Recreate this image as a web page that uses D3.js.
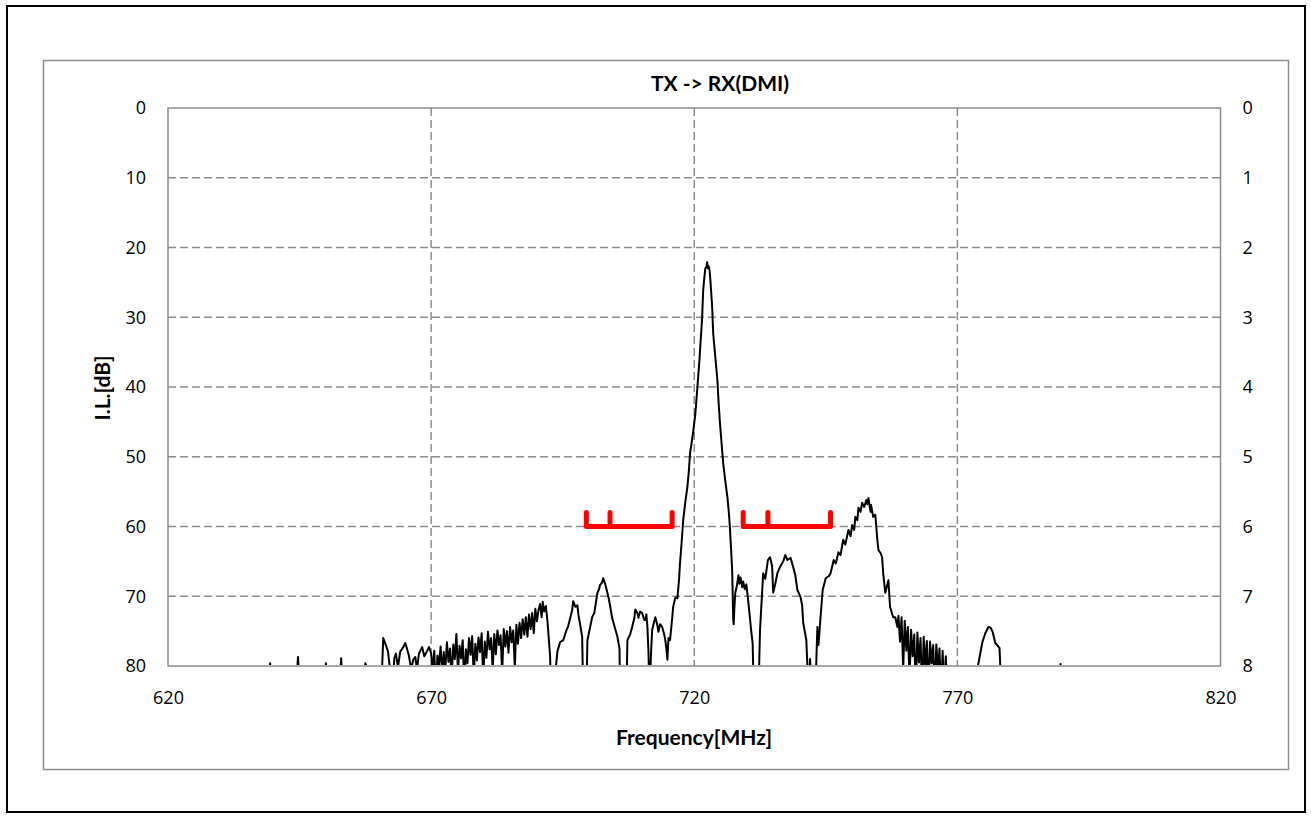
<!DOCTYPE html>
<html><head><meta charset="utf-8">
<script src="https://cdn.jsdelivr.net/npm/d3@7"></script>
<style>
html,body{margin:0;padding:0;background:#fff;}
svg{display:block;font-family:Lato,"Liberation Sans",sans-serif;}
</style></head>
<body>
<svg id="c" width="1311" height="819"></svg>
<script>
const titleText = "TX -> RX(DMI)";
const xLabel = "Frequency[MHz]";
const yLabel = "I.L.[dB]";
const xTicks = [620, 670, 720, 770, 820];
const yTicks = [0, 10, 20, 30, 40, 50, 60, 70, 80];
const y2Ticks = [0, 1, 2, 3, 4, 5, 6, 7, 8];

// measured trace: [frequency MHz, insertion loss dB]; values > 80 fall below the axis
const trace = [
[620,84],[639.0,84],[639.4,79.6],[639.8,84],[644.3,84],[644.7,78.7],[645.1,84],
[649.7,84],[650.0,79.6],[650.4,84],[652.5,84],[652.9,78.9],[653.3,84],
[656.9,84],[657.5,79.6],[658.0,80.5],[660.5,84],[660.9,76.0],[661.4,77.0],[661.8,77.9],
[662.2,80.5],[662.6,84],[663.0,78.9],[663.3,78.2],[663.7,80.2],[664.1,78.0],[664.7,77.3],
[665.1,76.7],[665.4,77.5],[665.8,78.6],[666.2,80.5],[666.6,79.1],[667.0,78.7],[667.3,80.5],
[667.7,78.2],[668.3,77.3],[668.7,78.6],[669.2,77.9],[669.6,77.3],[670.0,78.2],
[670.3,80.6],[670.6,77.8],[670.9,84],[671.2,78.5],[671.5,79.9],[671.8,77.2],[672.1,81],
[672.4,78.0],[672.7,80.5],[673.0,76.6],[673.3,79.4],[673.6,77.5],[673.9,82],[674.2,76.9],
[674.5,79.0],[674.8,75.4],[675.1,80.8],[675.4,77.1],[675.7,78.9],[676.0,76.3],[676.3,83],
[676.6,77.6],[676.9,79.6],[677.2,76.0],[677.5,78.4],[677.8,75.7],[678.1,81.5],[678.4,76.8],
[678.7,79.2],[679.0,75.9],[679.3,78.0],[679.6,75.3],[679.9,82],[680.2,76.5],[680.5,78.8],
[680.8,75.1],[681.1,77.6],[681.4,76.0],[681.7,80.8],[682.0,75.4],[682.3,78.3],[682.6,74.9],
[682.9,77.0],[683.2,75.6],[683.5,81],[683.8,74.7],[684.1,77.2],[684.4,75.0],[684.7,78.1],
[685.0,74.4],[685.3,76.6],[685.6,74.9],[685.9,80.2],[686.2,74.1],[686.5,76.8],[686.8,73.8],
[687.1,76.0],[687.4,73.3],[687.7,75.5],[688.0,73.0],[688.3,75.8],[688.6,72.6],[688.9,74.7],
[689.2,72.4],[689.5,75.3],[689.8,71.8],[690.1,73.6],[690.4,72.0],[690.7,71.1],[691.0,73.0],
[691.2,70.8],[691.5,72.2],[691.8,71.4],[692.1,73.5],[692.4,76.5],[692.6,78.5],[692.8,84],
[693.2,84],[694.0,77.9],[694.5,76.6],[695.1,76.3],[695.7,74.9],[696.0,74.4],[696.4,73.2],
[696.8,72.0],[697.0,70.7],[697.4,71.5],[697.8,71.3],[698.0,72.7],[698.3,74.0],[698.7,75.8],
[698.9,84],[699.5,84],[699.7,76.3],[700.0,75.2],[700.6,73.0],[701.0,72.4],[701.6,69.5],
[701.9,69.0],[702.1,68.4],[702.5,68.0],[702.7,67.4],[703.1,68.3],[703.5,69.5],[703.8,70.5],
[704.4,73.1],[704.8,74.2],[705.4,75.8],[705.8,77.5],[705.9,84],[707.1,84],[707.3,76.3],
[707.8,75.5],[708.2,74.4],[708.6,73.2],[708.8,71.9],[709.2,72.4],[709.4,73.1],[709.7,72.2],
[710.1,72.4],[710.5,73.4],[710.7,73.4],[710.9,72.6],[711.1,74.4],[711.3,78],[711.5,84],
[711.8,78],[712.0,74.8],[712.4,73.6],[712.6,73.0],[713.0,74.2],[713.2,75.1],[713.5,74.0],
[713.9,74.4],[714.3,75.5],[714.5,76.3],[714.7,77.5],[714.9,79.1],[715.1,76.0],[715.4,76.3],
[715.8,73.2],[716.0,71.5],[716.4,70.2],[716.8,70.3],[717.1,67.7],[717.3,65.2],[717.6,62.3],
[717.9,59.1],[718.3,56.5],[718.7,54.3],[719.0,51.8],[719.2,49.5],[719.5,48.0],[719.8,46.4],
[720.2,43.9],[720.5,41.0],[720.8,38.0],[721.0,36.0],[721.1,34.7],[721.3,32.4],[721.5,30.0],
[721.7,26.1],[721.9,24.5],[722.1,23.0],[722.3,22.8],[722.45,22.1],[722.6,23.0],[722.7,22.6],
[722.9,23.2],[723.0,24.0],[723.2,26.2],[723.4,28.5],[723.6,32.3],[724.0,35.7],[724.4,39.0],
[724.6,41.9],[724.9,45.3],[725.1,47.2],[725.5,50.9],[725.9,53.5],[726.3,55.8],[726.6,58.2],
[726.8,60.5],[727.0,63.3],[727.2,66.2],[727.3,69.5],[727.4,73.4],[727.5,74.0],[727.6,72.0],
[727.8,69.5],[728.1,68.5],[728.4,67.0],[728.6,68.2],[728.8,67.3],[729.1,68.7],[729.3,67.9],
[729.6,69.0],[729.9,68.3],[730.2,70.3],[730.5,72.5],[730.8,74.8],[731.1,76.8],[731.3,84],
[732.2,84],[732.5,74.8],[733.1,66.7],[733.5,67.5],[734.0,64.8],[734.4,64.4],[734.8,65.7],
[735.0,69.5],[735.4,68.2],[735.8,66.7],[736.3,65.8],[736.9,65.0],[737.3,64.1],[737.7,64.8],
[738.3,64.5],[738.8,65.8],[739.2,67.0],[739.6,69.1],[740.2,70.1],[740.5,71.3],[740.7,73.8],
[741.3,76.3],[741.7,84],[742.0,79.0],[742.4,84],[743.0,84],[743.4,74.4],[743.6,77],
[744.0,73.0],[744.4,69.1],[745.0,67.4],[745.6,67.1],[745.9,66.7],[746.5,64.8],[746.9,65.3],
[747.4,63.7],[747.8,64.1],[748.3,61.9],[748.7,62.6],[749.3,60.5],[749.7,61.4],[750.0,59.8],
[750.4,60.5],[750.6,58.6],[751.0,59.1],[751.2,57.3],[751.6,57.9],[751.9,56.6],[752.3,57.2],
[752.7,56.2],[752.9,56.8],[753.1,55.9],[753.5,57.9],[753.6,56.9],[754.0,58.6],[754.4,58.3],
[754.6,60.1],[754.8,62.0],[755.0,63.4],[755.4,63.8],[755.7,64.4],[755.9,66.7],[756.3,69.5],
[756.9,67.7],[757.2,71.5],[757.8,73.0],[758.2,73.0],[758.6,74.4],
[758.8,72.8],[759.1,76.5],[759.4,73.0],[759.7,80.5],[760.0,73.5],[760.3,77.8],[760.6,74.4],
[760.9,82],[761.2,74.8],[761.5,78.6],[761.8,75.5],[762.1,84],[762.4,75.2],[762.7,79.5],
[763.0,76.0],[763.3,84],[763.6,75.8],[763.9,80.2],[764.2,76.4],[764.5,84],[764.8,76.5],
[765.1,79.6],[765.4,77.0],[765.7,84],[766.0,76.9],[766.3,80.5],[766.6,77.5],[766.9,84],
[767.2,77.8],[767.5,84],[767.8,78.6],[768.1,84],[768.4,84],
[773.6,84],[773.9,80],[774.75,76.6],[775.3,75.3],[775.9,74.4],[776.3,74.5],[776.7,75.1],
[777.2,76.7],[778.0,77.4],[778.4,84],[789.3,84],[789.6,79.7],[789.9,84],[820,84]
];

// red band markers (bracket shapes)
const bandLeft  = [[699.5,58],[699.5,60],[704,60],[704,58],[704,60],[715.8,60],[715.8,58]];
const bandRight = [[729.3,58],[729.3,60],[734,60],[734,58],[734,60],[745.9,60],[745.9,58]];

const svg = d3.select("#c");
const L = 168, R = 1220.5, T = 108, B = 666;
const x = d3.scaleLinear().domain([620, 820]).range([L, R]);
const y = d3.scaleLinear().domain([0, 80]).range([T, B]);
const y2 = d3.scaleLinear().domain([0, 8]).range([T, B]);

// frames
svg.append("rect").attr("x", 7).attr("y", 6).attr("width", 1298).attr("height", 806)
  .attr("fill", "#fff").attr("stroke", "#000").attr("stroke-width", 2);
svg.append("rect").attr("x", 43.5).attr("y", 60.5).attr("width", 1245).attr("height", 709)
  .attr("fill", "#fff").attr("stroke", "#8c8c8c").attr("stroke-width", 1.5);

// grid
const grid = svg.append("g");
grid.selectAll("line.h").data(yTicks.filter(d => d > 0 && d < 80)).join("line")
  .attr("x1", L).attr("x2", R).attr("y1", d => y(d)).attr("y2", d => y(d))
  .attr("stroke", "#8c8c8c").attr("stroke-width", 1.5).attr("stroke-dasharray", "8,4");
grid.selectAll("line.v").data(xTicks.filter(d => d > 620 && d < 820)).join("line")
  .attr("y1", T).attr("y2", B).attr("x1", d => x(d)).attr("x2", d => x(d))
  .attr("stroke", "#8c8c8c").attr("stroke-width", 1.5).attr("stroke-dasharray", "8,4");

// plot border
svg.append("rect").attr("x", L).attr("y", T).attr("width", R - L).attr("height", B - T)
  .attr("fill", "none").attr("stroke", "#8c8c8c").attr("stroke-width", 1.5);

// axes (labels only)
const fs = 18, fsB = 21;
const tickFont = "'Open Sans', 'Noto Sans', sans-serif";
const yAxisL = d3.axisLeft(y).tickValues(yTicks).tickSize(0).tickPadding(22);
const gL = svg.append("g").attr("transform", `translate(${L},0)`).call(yAxisL);
const yAxisR = d3.axisRight(y2).tickValues(y2Ticks).tickSize(0).tickPadding(22);
const gR = svg.append("g").attr("transform", `translate(${R},0)`).call(yAxisR);
const xAxis = d3.axisBottom(x).tickValues(xTicks).tickSize(0).tickPadding(25);
const gX = svg.append("g").attr("transform", `translate(0,${B})`).call(xAxis);
[gL, gR, gX].forEach(g => {
  g.select(".domain").remove();
  g.selectAll("text").attr("font-size", fs).attr("font-weight", 400)
    .attr("font-family", tickFont).attr("fill", "#000");
});

// clip
svg.append("clipPath").attr("id", "clip").append("rect")
  .attr("x", L).attr("y", T).attr("width", R - L).attr("height", B - T - 1);

const line = d3.line().x(d => x(d[0])).y(d => y(d[1]));
svg.append("path").datum(trace).attr("clip-path", "url(#clip)")
  .attr("d", line).attr("fill", "none").attr("stroke", "#000").attr("stroke-width", 2)
  .attr("stroke-linejoin", "round");

[bandLeft, bandRight].forEach(b => {
  svg.append("path").datum(b).attr("d", line).attr("fill", "none")
    .attr("stroke", "#ff0000").attr("stroke-width", 5)
    .attr("stroke-linejoin", "round").attr("stroke-linecap", "round");
});

// titles
svg.append("text").attr("x", 720).attr("y", 91).attr("text-anchor", "middle")
  .attr("font-size", fsB).attr("font-weight", "bold").text(titleText);
svg.append("text").attr("x", 694).attr("y", 745).attr("text-anchor", "middle")
  .attr("font-size", fsB).attr("font-weight", "bold").text(xLabel);
svg.append("text").attr("transform", "translate(110,388) rotate(-90)").attr("text-anchor", "middle")
  .attr("font-size", fsB).attr("font-weight", "bold").text(yLabel);
</script>
</body></html>
